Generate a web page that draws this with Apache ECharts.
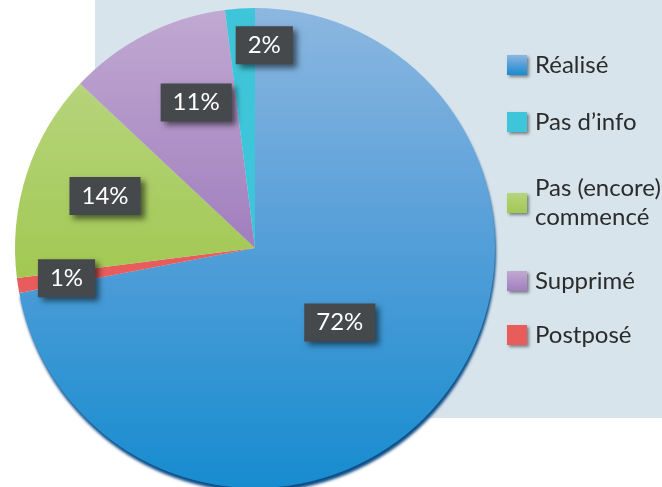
<!DOCTYPE html>
<html>
<head>
<meta charset="utf-8">
<script src="https://cdn.jsdelivr.net/npm/echarts@6/dist/echarts.min.js"></script>
<style>
  html, body { margin: 0; padding: 0; background: #fff; }
  #main { width: 662px; height: 487px; }
</style>
</head>
<body>
<div id="main"></div>
<script>
// slices, clockwise from 12 o'clock
const categories = ['Réalisé', 'Postposé', 'Pas (encore) commencé', 'Supprimé', 'Pas d’info'];
const shares = [72, 1, 14, 11, 2];
const legendOrder = ['Réalisé', 'Pas d’info', 'Pas (encore) commencé', 'Supprimé', 'Postposé'];

const grad = (a, b, c) => new echarts.graphic.LinearGradient(0, 0, 0, 1, c
  ? [{ offset: 0, color: a }, { offset: 0.45, color: b }, { offset: 1, color: c }]
  : [{ offset: 0, color: a }, { offset: 1, color: b }]);

const colors = {
  'Réalisé': grad('#8cb7e0', '#58a0d9', '#168ccf'),
  'Postposé': '#e85c5c',
  'Pas (encore) commencé': grad('#b6d47c', '#a2c852'),
  'Supprimé': grad('#c0a9d2', '#a17ebd'),
  'Pas d’info': '#3fc5da'
};

// nudges so the boxes sit where the original put them
const labelShift = [[-10, -4], [-67, 11], [-33, -14], [-3, -36], [17, -80]];
// icon centres of the legend entries (same order as legendOrder)
const legendY = [65, 122, 203, 281, 335];

window.onload = function () {
  const chartDom = document.getElementById('main');
  const myChart = echarts.init(chartDom);

  const pieData = categories.map(function (name, i) {
    const item = { name: name, value: shares[i], itemStyle: { color: colors[name] } };
    if (i === 0) {
      item.itemStyle.shadowColor = '#0b4c86';
      item.itemStyle.shadowOffsetY = 4;
      item.itemStyle.shadowOffsetX = 1;
      item.itemStyle.shadowBlur = 3;
    }
    return item;
  });

  const legends = legendOrder.map(function (name, i) {
    const twoLines = name.indexOf(') ') > -1;
    return {
      show: true,
      left: 507,
      top: twoLines ? legendY[i] - 43.5 : legendY[i] - 14.5,
      padding: 0,
      orient: 'vertical',
      icon: 'rect',
      itemWidth: 20,
      itemHeight: 20,
      selectedMode: false,
      itemStyle: {
        shadowColor: 'rgba(0,0,0,0.45)',
        shadowBlur: 3,
        shadowOffsetX: 2,
        shadowOffsetY: 2
      },
      formatter: function (n) { return n.replace(') ', ')\n'); },
      textStyle: {
        fontFamily: 'Lato',
        fontSize: 24,
        lineHeight: 29,
        color: '#2b2b2b',
        padding: twoLines ? [29, 0, 0, 3] : [0, 0, 0, 3]
      },
      data: [name]
    };
  });

  const option = {
    animation: false,
    graphic: [{
      type: 'rect',
      z: -10,
      shape: { x: 95, y: 0, width: 567, height: 418 },
      style: { fill: '#d8e4ec' }
    }],
    legend: legends,
    series: [{
      type: 'pie',
      center: [255, 248],
      radius: 240,
      startAngle: 90,
      clockwise: true,
      avoidLabelOverlap: false,
      emphasis: { disabled: true },
      label: {
        show: true,
        position: 'inside',
        formatter: '{c}%',
        fontFamily: 'Lato',
        fontSize: 24,
        lineHeight: 24,
        color: '#ffffff',
        backgroundColor: '#45494c',
        padding: [7, 12],
        shadowColor: 'rgba(0,0,0,0.55)',
        shadowBlur: 6,
        shadowOffsetX: 4,
        shadowOffsetY: 4
      },
      labelLayout: function (p) {
        return { dx: labelShift[p.dataIndex][0], dy: labelShift[p.dataIndex][1] };
      },
      labelLine: { show: false },
      data: pieData
    }]
  };

  option && myChart.setOption(option);
};
</script>
</body>
</html>
